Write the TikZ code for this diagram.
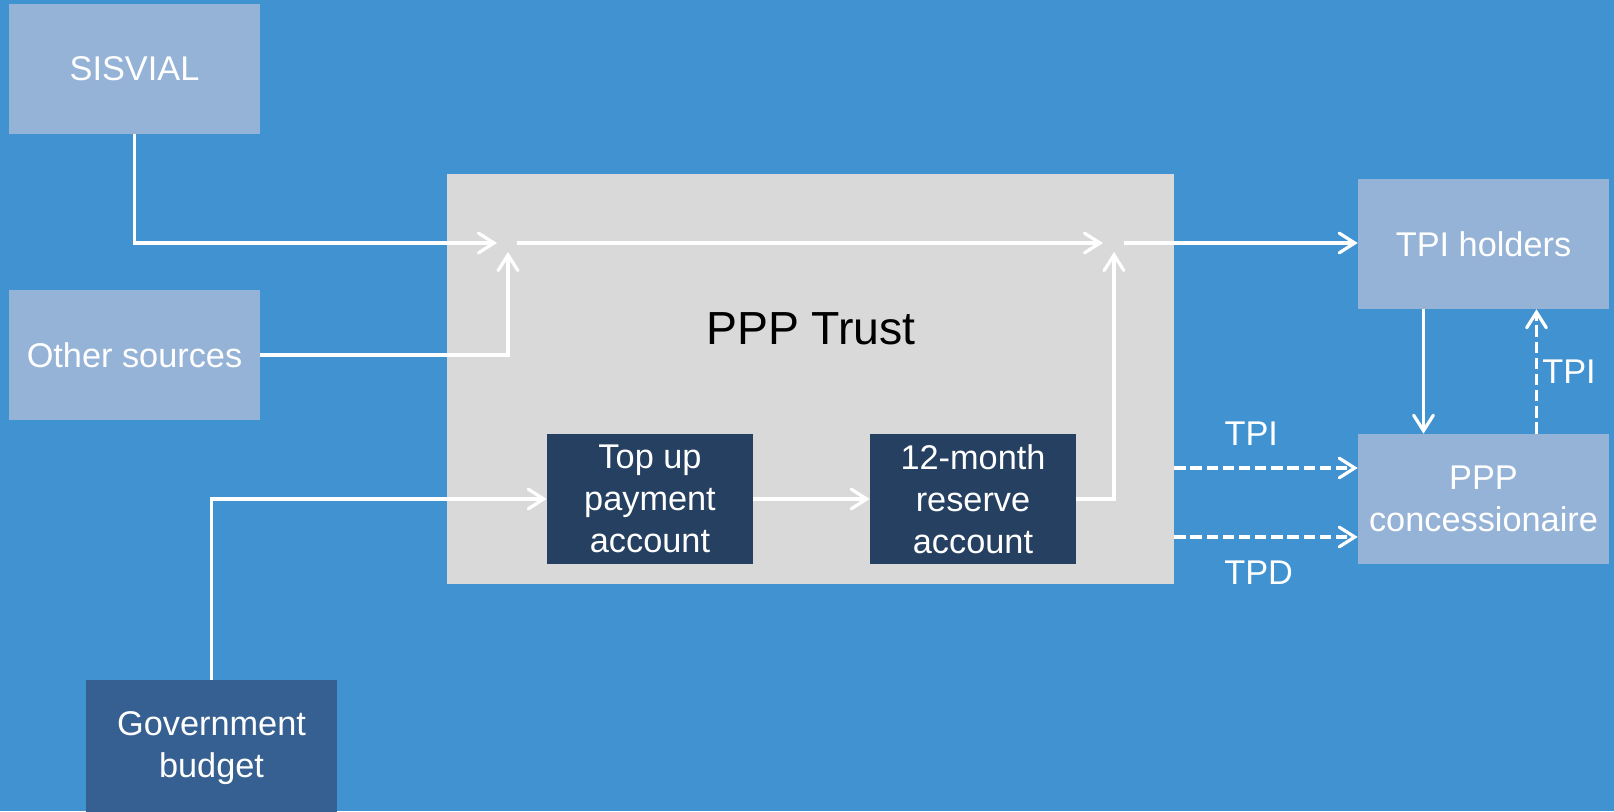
\documentclass[tikz,border=0pt]{standalone}
\usepackage{fontspec}
\setmainfont{Liberation Sans}
\usetikzlibrary{calc}
\usetikzlibrary{positioning}
\usetikzlibrary{arrows.meta}

\definecolor{bgblue}{RGB}{65,146,208}
\definecolor{paleblue}{RGB}{149,179,215}
\definecolor{trustgray}{RGB}{217,217,217}
\definecolor{navy}{RGB}{38,64,97}
\definecolor{govblue}{RGB}{54,96,146}

\newcommand{\pxu}{0.025cm}
\newcommand{\boxfont}{\fontsize{24.4}{29.8}\selectfont}
\newcommand{\trustfont}{\fontsize{33}{40}\selectfont}

\begin{document}
\begin{tikzpicture}[x=0.025cm, y=-0.025cm,
    box/.style={minimum width=251*\pxu, minimum height=130*\pxu, inner sep=0pt,
      text=white, align=center, font=\boxfont},
    account/.style={box, minimum width=206*\pxu, fill=navy},
    flow/.style={draw=white, line width=2.3pt,
      -{Straight Barb[length=11pt, width=14pt, line cap=round]}},
    tag/.style={text=white, font=\boxfont, inner sep=0pt}]
  \fill[bgblue] (0, 0) rectangle (1614, 811);
  \useasboundingbox (0, 0) rectangle (1614, 811);

  % trust and its two accounts
  \node[fill=trustgray, minimum width=727*\pxu, minimum height=410*\pxu, inner sep=0pt]
    at (810.5, 379) (trust) {};
  \node[font=\trustfont] at (811, 329) (trustlabel) {PPP Trust};
  \node[account] at (650, 499) (topup) {Top up\\payment\\account};
  \node[account] at (973, 499) (reserve) {12-month\\reserve\\account};

  % sources and receivers
  \node[box, fill=paleblue] at (134.5, 69) (sisvial) {SISVIAL};
  \node[box, fill=paleblue] at (134.5, 355) (other) {Other sources};
  \node[box, fill=govblue, minimum height=136*\pxu] at (211.5, 748) (gov) {Government\\budget};
  \node[box, fill=paleblue] at (1483.5, 244) (tpi) {TPI holders};
  \node[box, fill=paleblue] at (1483.5, 499) (conc) {PPP\\concessionaire};

  \coordinate (mixL) at (508, 243);
  \coordinate (mixR) at (1114, 243);
  \coordinate (tpiin) at ($(conc.west) + (0, -31)$);
  \coordinate (tpdin) at ($(conc.west) + (0, 38)$);

  \draw[flow, shorten >=11*\pxu] (sisvial.south) |- (mixL);
  \draw[flow, shorten >=9*\pxu] (other.east) -| (mixL);
  \draw[flow, shorten <=9*\pxu, shorten >=11*\pxu] (mixL) -- (mixR);
  \draw[flow, shorten <=10*\pxu] (mixR) -- (mixR -| tpi.west);

  \draw[flow] (gov.north) |- (topup.west);
  \draw[flow] (topup) -- (reserve);
  \draw[flow, shorten >=9*\pxu] (reserve.east) -| (mixR);

  % payments to the concessionaire
  \draw[flow] ($(tpi.south) + (-60, 0)$) -- ($(conc.north) + (-60, 0)$);
  \draw[flow, dash pattern=on 8pt off 3.5pt] ($(conc.north) + (53, 0)$)
    -- node[tag, right=3pt] (tpiup) {TPI} ($(tpi.south) + (53, 0)$);
  \draw[flow, dash pattern=on 8pt off 3.5pt] (trust.east |- tpiin)
    -- node[tag, above=15pt, pos=0.42] (tpilab) {TPI} (tpiin);
  \draw[flow, dash pattern=on 8pt off 3.5pt] (trust.east |- tpdin)
    -- node[tag, below=16pt, pos=0.46] (tpdlab) {TPD} (tpdin);
\end{tikzpicture}
\end{document}
